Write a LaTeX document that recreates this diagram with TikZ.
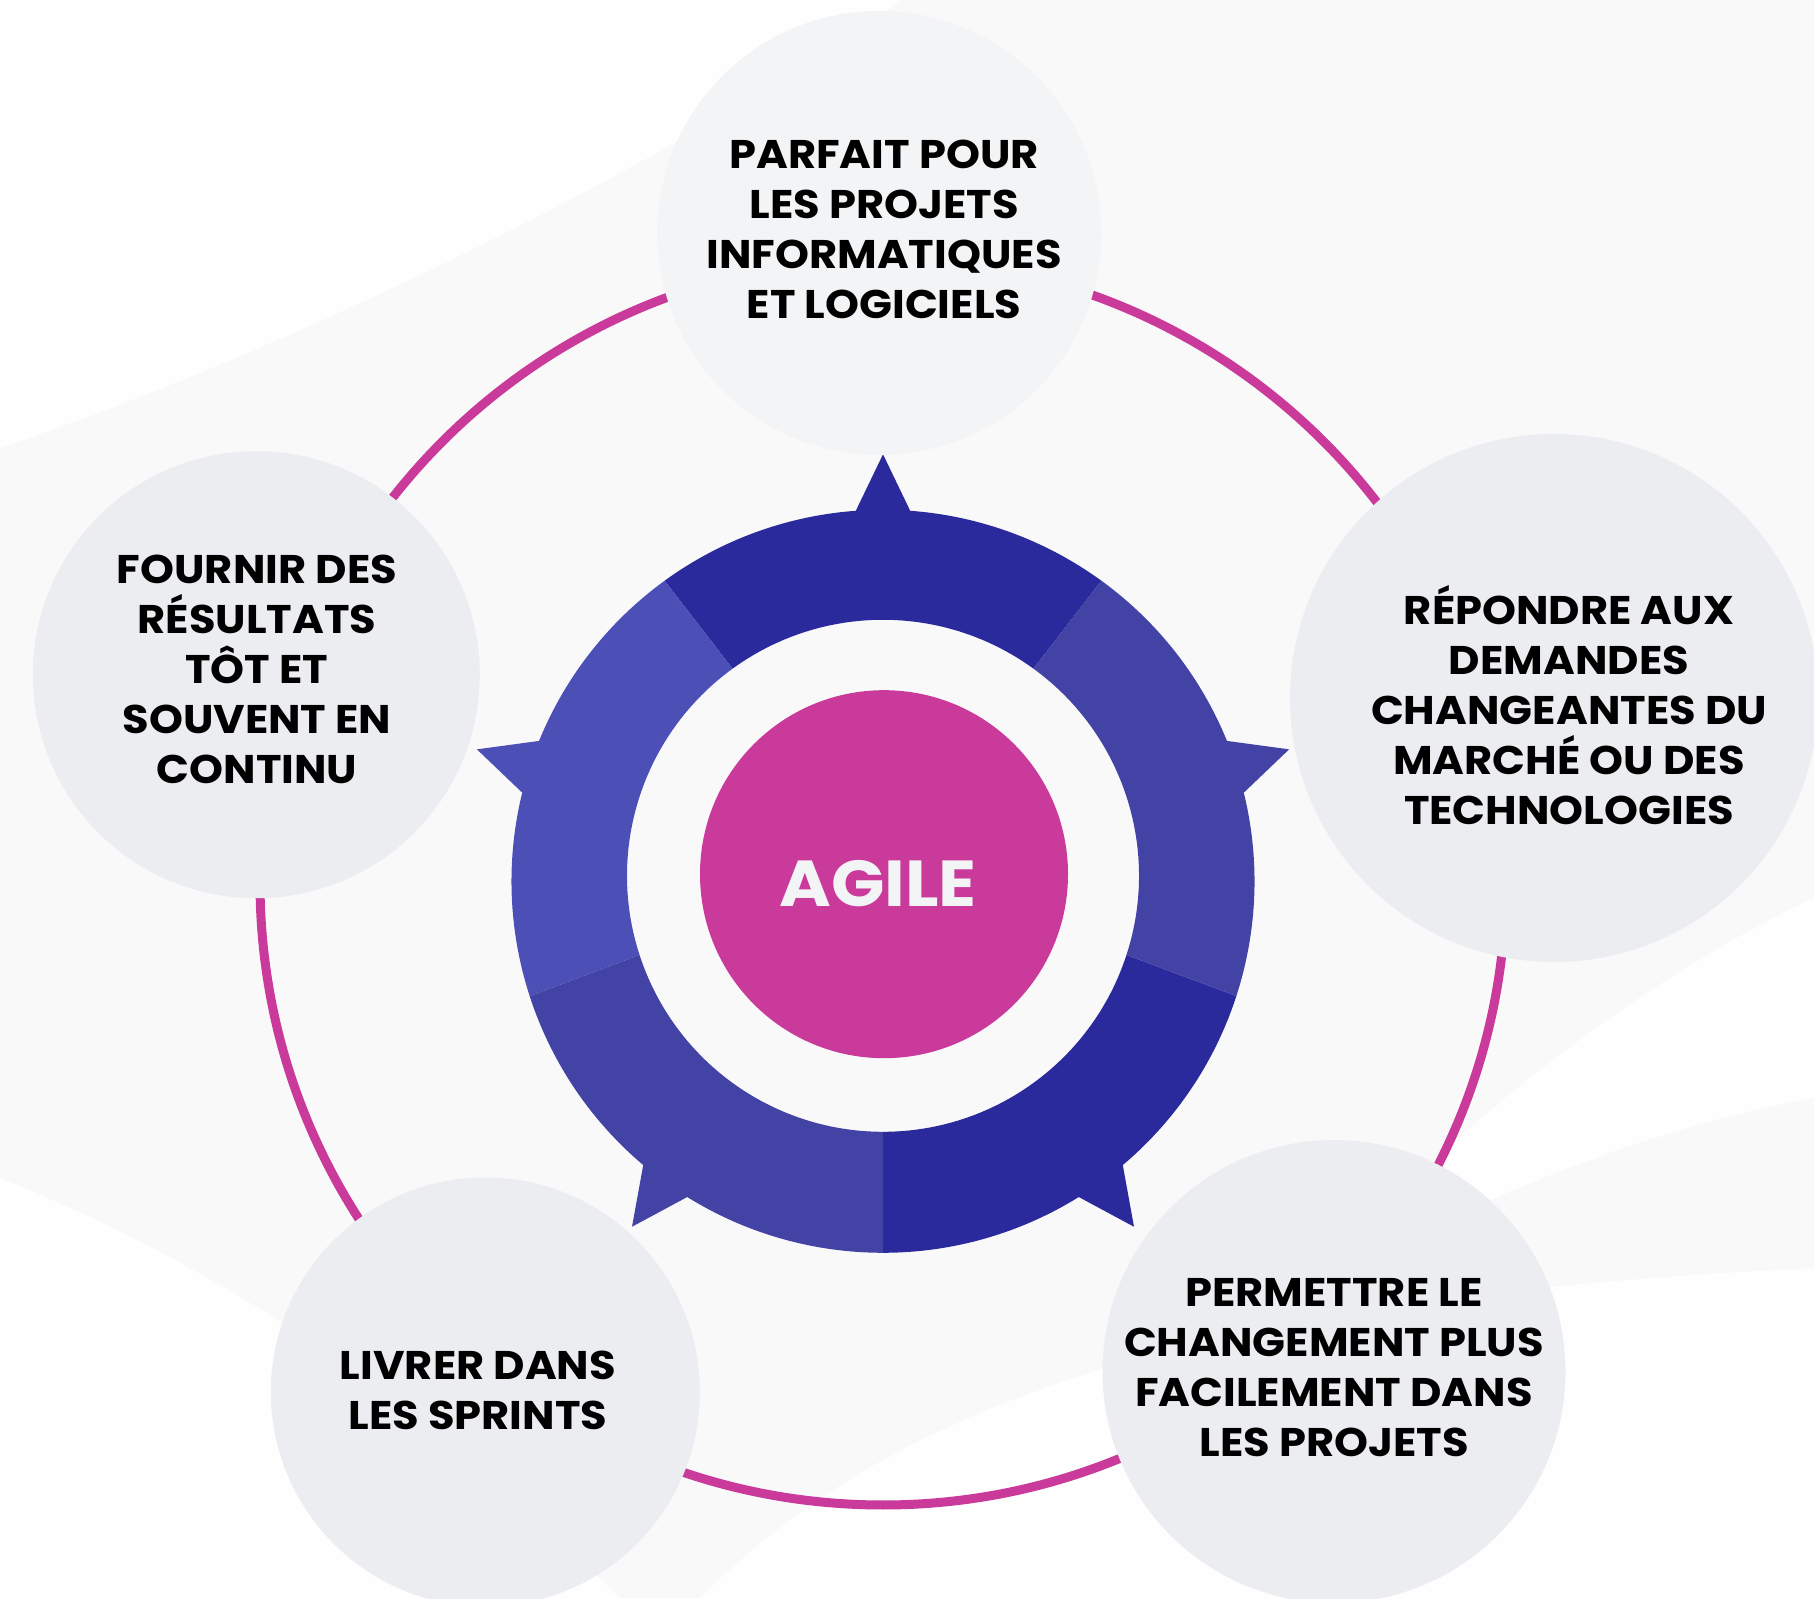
\documentclass[tikz,border=0pt]{standalone}
\usepackage{fontspec}
\setmainfont{Poppins}[FakeStretch=1.08]
\usetikzlibrary{calc}
\definecolor{bg}{HTML}{F9F9FA}
\definecolor{swooshw}{HTML}{FEFEFE}
\definecolor{mag}{HTML}{C93A9B}
\definecolor{navyA}{HTML}{2A2A9D}
\definecolor{navyB}{HTML}{4343A6}
\definecolor{navyC}{HTML}{4C4FB6}
\definecolor{bubbleA}{HTML}{F3F4F6}
\definecolor{bubbleB}{HTML}{ECEDF1}
\definecolor{agiletxt}{HTML}{F3F4F6}
\begin{document}
\begin{tikzpicture}[x=1pt,y=1pt,
  bubble/.style={circle, fill=bubbleB, inner sep=0pt, minimum size=#1},
  bubbletext/.style={align=center, font=\fontsize{40}{50}\selectfont\bfseries, text=black, inner sep=0pt},
]
\fill[bg] (0,0) rectangle (1814,1598);
\useasboundingbox (0,0) rectangle (1814,1598);
% background swooshes
\fill[swooshw] (0,420) .. controls (300,300) and (500,120) .. (620,0) -- (0,0) -- cycle;
\fill[swooshw] (0,1598) -- (0,1150) .. controls (300,1250) and (700,1450) .. (900,1598) -- cycle;
\fill[swooshw] (1814,700) .. controls (1600,600) and (1400,420) .. (1300,300) .. controls (1500,420) and (1700,480) .. (1814,500) -- cycle;
\fill[swooshw] (700,0) .. controls (900,200) and (1200,300) .. (1814,330) -- (1814,0) -- cycle;
% centres
\coordinate (O) at (883,716.7);
\coordinate (H) at (883,722.2);
\coordinate (C) at (883,716);
% connector ring
\draw[mag, line width=9] (C) circle[radius=623];
% central wheel
\foreach \a/\col in {54/navyA,126/navyC,198/navyB,270/navyA,342/navyB}{
  \pgfmathsetmacro\b{\a+72}
  \pgfmathsetmacro\m{\a+36}
  \pgfmathsetmacro\ml{\m-4.2}
  \pgfmathsetmacro\mr{\m+4.2}
  \fill[\col] ($(O)+(\a:371.5)$) arc[start angle=\a, end angle=\b, radius=371.5]
     -- ($(H)+(\b:256)$) arc[start angle=\b, end angle=\a, radius=256] -- cycle;
  \fill[\col] ($(O)+(\ml:371.5)$) -- ($(O)+(\m:427)$) -- ($(O)+(\mr:371.5)$) -- ($(O)+(\m:350)$) -- cycle;
}
\node[circle, fill=mag, minimum size=368, inner sep=0pt] (agile) at (884,723.8) {};
\node[font=\fontsize{65}{65}\selectfont\bfseries, text=agiletxt, inner sep=0pt] (agiletext) at (878,714.7) {AGILE};
% satellites
\node[bubble=444, fill=bubbleA] (top) at (879.3,1365) {};
\node[bubble=528] (right) at (1554,900) {};
\node[bubble=447] (left) at (256.3,923.3) {};
\node[bubble=429] (botl) at (485.3,206) {};
\node[bubble=463] (botr) at (1334,226.5) {};
\node[bubbletext] (toptext) at (884,1369) {PARFAIT POUR\\LES PROJETS\\INFORMATIQUES\\ET LOGICIELS};
\node[bubbletext] (righttext) at (1569,893) {RÉPONDRE AUX\\DEMANDES\\CHANGEANTES DU\\MARCHÉ OU DES\\TECHNOLOGIES};
\node[bubbletext] (lefttext) at (257,929) {FOURNIR DES\\RÉSULTATS\\TÔT ET\\SOUVENT EN\\CONTINU};
\node[bubbletext] (botltext) at (478,208) {LIVRER DANS\\LES SPRINTS};
\node[bubbletext] (botrtext) at (1334,230) {PERMETTRE LE\\CHANGEMENT PLUS\\FACILEMENT DANS\\LES PROJETS};
\end{tikzpicture}
\end{document}
